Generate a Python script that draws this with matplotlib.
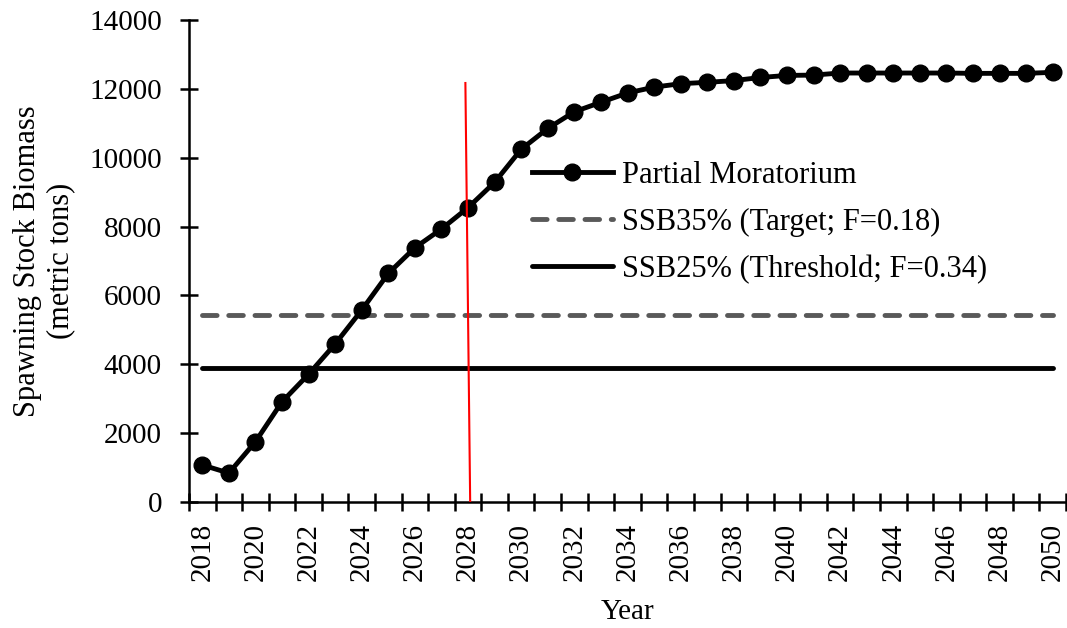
import matplotlib
matplotlib.use("Agg")
import matplotlib.pyplot as plt

years = list(range(2018, 2051))
ssb = [1075, 840, 1750, 2910, 3710, 4590, 5575, 6640, 7385, 7930,
       8550, 9285, 10245, 10850, 11335, 11610, 11880, 12050, 12150, 12190,
       12240, 12330, 12390, 12400, 12460, 12460, 12460, 12460, 12460, 12450,
       12450, 12450, 12480]
ssb35 = 5430
ssb25 = 3885
red_x = [2027.9, 2028.08]
red_y = [12170, 0]

plt.rcParams['font.family'] = ['Liberation Serif', 'DejaVu Serif']
plt.rcParams['font.size'] = 21

W, H = 1067, 628
fig = plt.figure(figsize=(W / 100, H / 100), dpi=100)
ax = fig.add_axes([189 / W, 1 - 502 / H, 877 / W, 482 / H])

idx = [y - years[0] for y in years]
ax.plot(idx, ssb, color="black", lw=3.5, marker="o", markersize=12,
        label="Partial Moratorium", zorder=3)
ax.plot([idx[0], idx[-1]], [ssb35, ssb35], color="#595959", lw=3.5,
        ls=(0, (3, 2.4)), dash_capstyle="round",
        label="SSB35% (Target; F=0.18)", zorder=2)
ax.plot([idx[0], idx[-1]], [ssb25, ssb25], color="black", lw=3.5,
        solid_capstyle="round", label="SSB25% (Threshold; F=0.34)", zorder=2)
ax.plot([x - years[0] for x in red_x], red_y, color="red", lw=1.5, zorder=4)

ax.set_xlim(-0.5, len(years) - 0.5)
ax.set_ylim(0, 14000)
ax.set_yticks(range(0, 14001, 2000))
ax.set_xticks([i - 0.5 for i in range(len(years) + 1)])
ax.set_xticklabels([])
ax.set_xticks(idx[::2], minor=True)
ax.set_xticklabels([str(y) for y in years[::2]], minor=True, rotation=90)
ax.tick_params(axis="x", which="major", direction="inout", length=13, width=1.8)
ax.tick_params(axis="x", which="minor", direction="out", length=0, pad=15)
ax.tick_params(axis="y", direction="inout", length=13, width=1.8, pad=13)

for s in ["top", "right"]:
    ax.spines[s].set_visible(False)
for s in ["left", "bottom"]:
    ax.spines[s].set_linewidth(1.8)

fig.text(628 / W, 1 - 612 / H, "Year", fontsize=21, ha="center", va="center")
fig.text(44 / W, 1 - 261 / H, "Spawning Stock Biomass\n(metric tons)",
         fontsize=22, rotation=90, ha="center", va="center",
         multialignment="center", linespacing=1.2)

ax.legend(loc="upper left", bbox_to_anchor=(532 / W, 1 - 161 / H),
          bbox_transform=fig.transFigure, frameon=False, fontsize=22,
          borderpad=0, borderaxespad=0, handlelength=2.65,
          labelspacing=0.58, handletextpad=0.3)

fig.savefig("out.png", dpi=100)
